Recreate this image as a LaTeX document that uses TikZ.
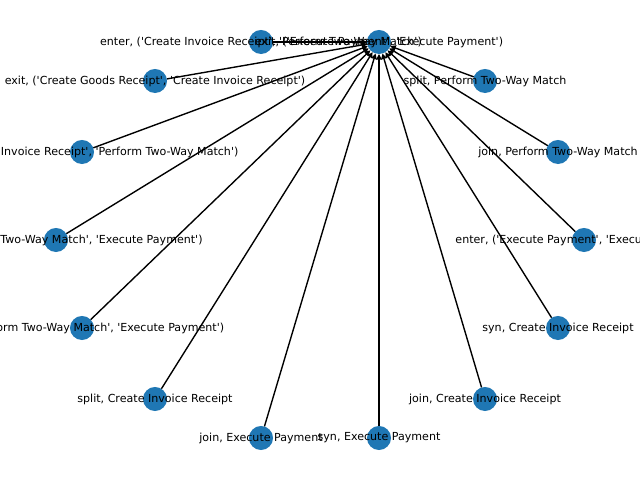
\documentclass[tikz,border=0pt]{standalone}
\usepackage{fontspec}
\setmainfont{DejaVu Sans}
\usetikzlibrary{arrows.meta,backgrounds}
\definecolor{nxblue}{HTML}{1F77B4}
\newcommand{\sq}{\textquotesingle}

\begin{document}
\begin{tikzpicture}[x=0.01in,y=-0.01in,
  dot/.style={circle,fill=nxblue,minimum size=0.24in,inner sep=0pt,outer sep=0pt},
  lbl/.style={font=\fontsize{8}{9.6}\selectfont,inner sep=0pt},
  edge/.style={black,line width=1pt,-{Triangle[length=4pt,width=4pt]}}]
\useasboundingbox (0,0) rectangle (640,480);
\node[dot] (n0) at (584,240) {};
\node[dot] (n1) at (558,152) {};
\node[dot] (n2) at (485,81) {};
\node[dot] (n3) at (379,42) {};
\node[dot] (n4) at (261,42) {};
\node[dot] (n5) at (155,81) {};
\node[dot] (n6) at (82,152) {};
\node[dot] (n7) at (56,240) {};
\node[dot] (n8) at (82,328) {};
\node[dot] (n9) at (155,399) {};
\node[dot] (n10) at (261,438) {};
\node[dot] (n11) at (379,438) {};
\node[dot] (n12) at (485,399) {};
\node[dot] (n13) at (558,328) {};
\begin{scope}[on background layer]
\foreach \i in {0,1,2,4,5,6,7,8,9,10,11,12,13}
  \draw[edge] (n\i) -- (n3);
\end{scope}
\node[lbl] (l0) at (n0) {enter, (\sq Execute Payment\sq, \sq Execute Payment\sq)};
\node[lbl] (l1) at (n1) {join, Perform Two-Way Match};
\node[lbl] (l2) at (n2) {split, Perform Two-Way Match};
\node[lbl] (l3) at (n3) {exit, (\sq Execute Payment\sq, \sq Execute Payment\sq)};
\node[lbl] (l4) at (n4) {enter, (\sq Create Invoice Receipt\sq, \sq Perform Two-Way Match\sq)};
\node[lbl] (l5) at (n5) {exit, (\sq Create Goods Receipt\sq, \sq Create Invoice Receipt\sq)};
\node[lbl] (l6) at (n6) {exit, (\sq Create Invoice Receipt\sq, \sq Perform Two-Way Match\sq)};
\node[lbl] (l7) at (n7) {enter, (\sq Perform Two-Way Match\sq, \sq Execute Payment\sq)};
\node[lbl] (l8) at (n8) {exit, (\sq Perform Two-Way Match\sq, \sq Execute Payment\sq)};
\node[lbl] (l9) at (n9) {split, Create Invoice Receipt};
\node[lbl] (l10) at (n10) {join, Execute Payment};
\node[lbl] (l11) at (n11) {syn, Execute Payment};
\node[lbl] (l12) at (n12) {join, Create Invoice Receipt};
\node[lbl] (l13) at (n13) {syn, Create Invoice Receipt};
\end{tikzpicture}
\end{document}
